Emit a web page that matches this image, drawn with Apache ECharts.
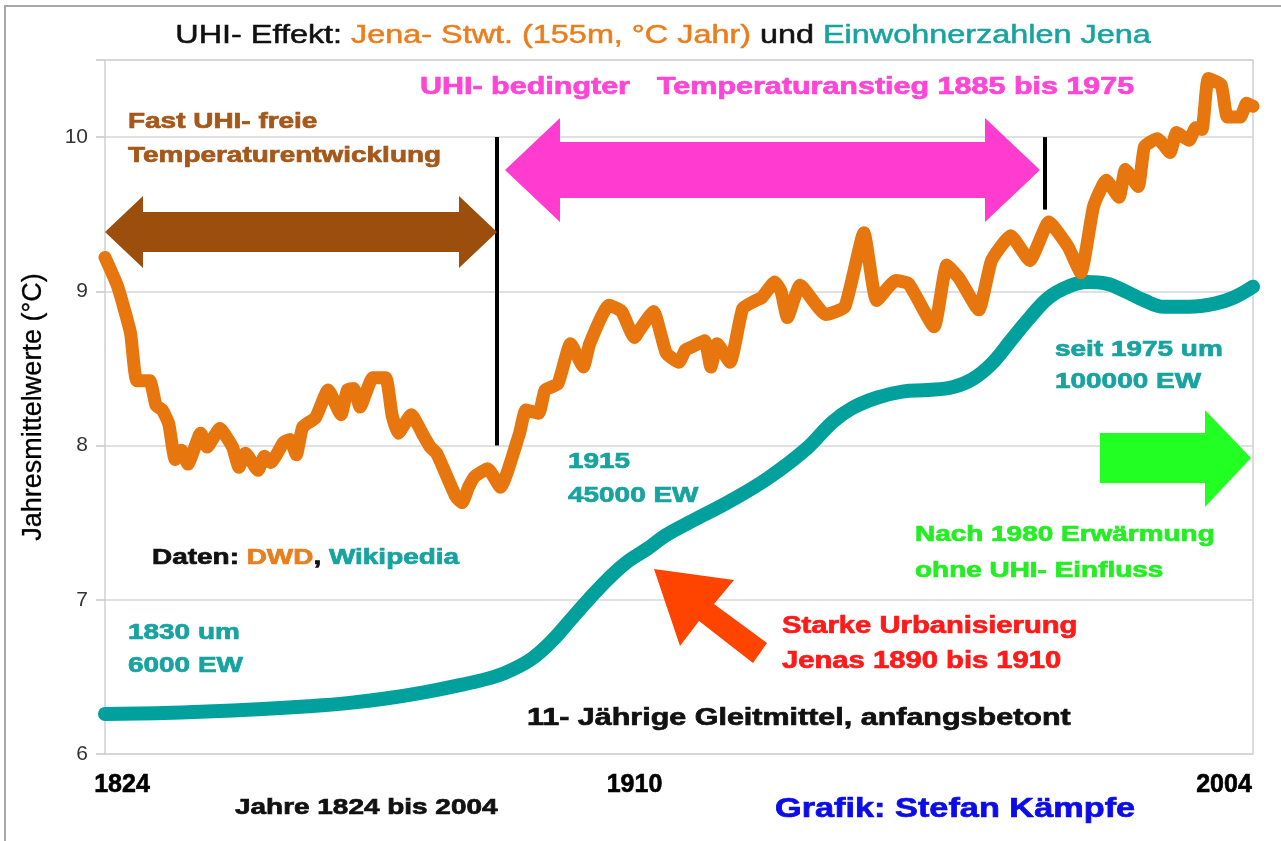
<!DOCTYPE html>
<html><head><meta charset="utf-8">
<script src="https://cdn.jsdelivr.net/npm/echarts@6/dist/echarts.min.js"></script>
<style>html,body{margin:0;padding:0;background:#fff}#c{width:1281px;height:841px}</style>
</head><body><div id="c"></div><script>
// Jena Sternwarte, 11-year running mean of annual temperature (°C)
const tempYears = [1824,1826,1828,1829,1831,1832,1833,1834,1835,1836,1837,1839,1840,1842,1844,1845,1846,1848,1849,1850,1852,1853,1854,1855,1857,1859,1861,1862,1863,1864,1866,1868,1869,1870,1872,1874,1875,1876,1879,1880,1881,1882,1884,1886,1889,1890,1892,1893,1895,1897,1899,1900,1903,1905,1907,1908,1910,1912,1914,1915,1916,1918,1919,1920,1922,1924,1926,1927,1929,1930,1931,1933,1937,1940,1943,1945,1948,1950,1954,1956,1958,1961,1963,1966,1969,1972,1975,1977,1979,1981,1983,1984,1986,1987,1989,1991,1992,1994,1995,1996,1997,1999,2000,2002,2003,2004];
const tempValues = [9.22,9.03,8.73,8.42,8.42,8.26,8.23,8.14,7.91,7.97,7.88,8.08,7.99,8.11,7.99,7.86,7.95,7.84,7.93,7.89,8.02,8.04,7.94,8.12,8.18,8.36,8.2,8.36,8.37,8.25,8.44,8.44,8.2,8.08,8.2,8.06,7.99,7.95,7.67,7.63,7.73,7.8,7.85,7.73,8.08,8.23,8.21,8.36,8.4,8.66,8.51,8.66,8.91,8.87,8.7,8.76,8.87,8.6,8.54,8.62,8.64,8.68,8.51,8.66,8.54,8.89,8.94,8.96,9.06,9.0,8.83,9.04,8.85,8.9,9.38,8.94,9.07,9.05,8.77,9.17,9.08,8.88,9.2,9.36,9.2,9.45,9.29,9.12,9.55,9.72,9.61,9.79,9.68,9.94,9.99,9.9,10.03,9.98,10.06,10.05,10.38,10.34,10.13,10.13,10.22,10.2];
// Population of Jena, drawn on the chart's scale (no own axis in the original)
const popYears = [1824,1832,1840,1848,1856,1862,1868,1874,1880,1885,1888,1891,1894,1897,1900,1903,1906,1909,1912,1916,1922,1928,1934,1938,1941,1945,1949,1953,1957,1960,1963,1966,1969,1972,1975,1978,1981,1984,1987,1990,1994,1998,2001,2004];
const popValues = [6.26,6.265,6.275,6.29,6.31,6.33,6.36,6.4,6.45,6.5,6.55,6.62,6.73,6.87,7.01,7.14,7.25,7.33,7.42,7.51,7.64,7.79,7.98,8.15,8.24,8.31,8.35,8.36,8.38,8.43,8.53,8.68,8.83,8.96,9.03,9.06,9.05,9.0,8.94,8.9,8.9,8.92,8.96,9.03];
const xLabels = [1824, 1910, 2004];
const yTicks = [6, 7, 8, 9, 10];

const tempData = tempYears.map((y, i) => [y, tempValues[i]]);
const popData = popYears.map((y, i) => [y, popValues[i]]);

const FONT = '"Liberation Sans", Arial, sans-serif';
const SX = 1.27;
const C = {orange:'#e8760f', teal:'#00a19c', brown:'#9c4e0c', magenta:'#ff3ccf', green:'#22ff22', red:'#ff1a1a', blue:'#0c0ce8'};

function rtxt(x, y, text, rich, size, align, weight) {
  return {
    type: 'text', x: x, y: y, scaleX: SX, z: 100,
    style: {text: text, rich: rich, fontFamily: FONT, fontWeight: weight || 'bold', fontSize: size,
      textAlign: align || 'left', textVerticalAlign: 'middle'}
  };
}
function simple(x, y, s, color, size) {
  return {
    type: 'text', x: x, y: y, scaleX: SX, z: 100,
    style: {text: s, fontFamily: FONT, fontWeight: 'bold', fontSize: size || 22,
      fill: color, stroke: color, lineWidth: 0.7, textAlign: 'left', textVerticalAlign: 'middle'}
  };
}
function rs(color, size, weight, sw) {
  return {fontFamily: FONT, fontWeight: weight || 'bold', fontSize: size, fill: color, color: color,
    textStrokeColor: color, textStrokeWidth: sw, stroke: color, lineWidth: sw};
}

const chart = echarts.init(document.getElementById('c'), null, {renderer: 'canvas'});
chart.setOption({
  backgroundColor: '#fff',
  animation: false,
  grid: {left: 105, right: 28, top: 60, bottom: 87, show: true, borderColor: '#d0d0d0', borderWidth: 1.5},
  xAxis: {
    type: 'value', min: 1824, max: 2004, interval: 2,
    axisLine: {show: false}, axisTick: {show: false}, splitLine: {show: false},
    axisLabel: {
      showMinLabel: true, showMaxLabel: true, margin: 19,
      formatter: v => v === xLabels[0] ? '{a|' + v + '}' : v === xLabels[1] ? '{b|' + v + '}' : v === xLabels[2] ? '{c|' + v + '}' : '',
      rich: {
        a: {fontFamily: FONT, fontWeight: 'bold', fontSize: 25, color: '#000', textBorderColor: '#000', textBorderWidth: 0.6, padding: [0, 0, 0, 34]},
        b: {fontFamily: FONT, fontWeight: 'bold', fontSize: 25, color: '#000', textBorderColor: '#000', textBorderWidth: 0.6, padding: [0, 38, 0, 0]},
        c: {fontFamily: FONT, fontWeight: 'bold', fontSize: 25, color: '#000', textBorderColor: '#000', textBorderWidth: 0.6, padding: [0, 58, 0, 0]}
      }
    }
  },
  yAxis: {
    type: 'value', min: 6, max: 10.5, interval: 1,
    name: 'Jahresmittelwerte (°C)', nameLocation: 'middle', nameGap: 58, nameRotate: 90,
    nameTextStyle: {fontFamily: FONT, fontSize: 27, color: '#000', textBorderColor: '#000', textBorderWidth: 0.3},
    axisLine: {show: false},
    axisTick: {show: true, length: 9, lineStyle: {color: '#c8c8c8', width: 1.5}},
    axisLabel: {margin: 17, fontFamily: FONT, fontSize: 21, color: '#333',
      formatter: v => yTicks.indexOf(v) >= 0 ? String(v) : ''},
    splitLine: {lineStyle: {color: '#d6d6d6', width: 1.5}}
  },
  series: [
    {
      name: 'Einwohner Jena', type: 'line', data: popData, smooth: 0.4, symbol: 'none', z: 2,
      lineStyle: {color: C.teal, width: 14, cap: 'round', join: 'round'}
    },
    {
      name: 'Jena-Stwt. Temperatur', type: 'line', data: tempData, smooth: 0.15, symbol: 'none', z: 3,
      lineStyle: {color: C.orange, width: 13, cap: 'round', join: 'round'},
      markLine: {
        silent: true, symbol: ['none', 'none'], label: {show: false},
        lineStyle: {color: '#000', width: 4, type: 'solid'},
        data: [
          [{coord: [1885.5, 10]}, {coord: [1885.5, 8]}],
          [{coord: [1971.4, 10]}, {coord: [1971.4, 9.53]}]
        ]
      }
    }
  ],
  graphic: [
    {type: 'rect', shape: {x: 5, y: 6, width: 1300, height: 860}, style: {fill: 'none', stroke: '#a8a8a8', lineWidth: 2}, z: 0},
    // brown double arrow
    {type: 'polygon', z: 50, shape: {points: [[105,232],[143,196],[143,212],[459,212],[459,196],[497,232],[459,268],[459,252],[143,252],[143,268]]}, style: {fill: C.brown}},
    // magenta double arrow
    {type: 'polygon', z: 50, shape: {points: [[505,170],[560,118],[560,142],[985,142],[985,118],[1040,170],[985,222],[985,198],[560,198],[560,222]]}, style: {fill: C.magenta}},
    // green arrow
    {type: 'polygon', z: 50, shape: {points: [[1100,433],[1205,433],[1205,410],[1251,458],[1205,507],[1205,483],[1100,483]]}, style: {fill: C.green}},
    // red arrow
    {type: 'polygon', z: 50, shape: {points: [[654,569],[734,580],[714,604],[767,643],[753,663],[699,621],[680,646]]}, style: {fill: '#ff4400'}},
    // title
    rtxt(663, 36, '{k|UHI- Effekt: }{o|Jena- Stwt. (155m, °C Jahr)}{k| und }{t|Einwohnerzahlen Jena}', {
      k: rs('#111', 25.5, 'normal', 0.5),
      o: rs('#ea7d1c', 25.5, 'normal', 0.5),
      t: rs('#17a3a0', 25.5, 'normal', 0.5)
    }, 25.5, 'center', 'normal'),
    simple(420, 87, 'UHI- bedingter', '#ff44d6', 24),
    simple(657, 87, 'Temperaturanstieg 1885 bis 1975', '#ff44d6', 24),
    simple(128, 122, 'Fast UHI- freie', '#a5581a', 22),
    simple(128, 156, 'Temperaturentwicklung', '#a5581a', 22),
    simple(568, 462, '1915', '#17a3a0', 22),
    simple(568, 496, '45000 EW', '#17a3a0', 22),
    simple(1055, 350, 'seit 1975 um', '#17a3a0', 22),
    simple(1055, 382, '100000 EW', '#17a3a0', 22),
    rtxt(152, 558, '{k|Daten: }{o|DWD}{k|, }{t|Wikipedia}', {
      k: rs('#111', 22, 'bold', 0.7),
      o: rs('#ea7d1c', 22, 'bold', 0.7),
      t: rs('#17a3a0', 22, 'bold', 0.7)
    }, 22),
    simple(915, 535, 'Nach 1980 Erwärmung', '#22ee22', 22),
    simple(915, 571, 'ohne UHI- Einfluss', '#22ee22', 22),
    simple(128, 633, '1830 um', '#17a3a0', 22),
    simple(128, 666, '6000 EW', '#17a3a0', 22),
    simple(782, 627, 'Starke Urbanisierung', C.red, 23),
    simple(782, 662, 'Jenas 1890 bis 1910', C.red, 23),
    simple(527, 718, '11- Jährige Gleitmittel, anfangsbetont', '#111', 24),
    simple(235, 808, 'Jahre 1824 bis 2004', '#111', 22),
    simple(775, 810, 'Grafik: Stefan Kämpfe', C.blue, 27)
  ]
});
</script></body></html>
